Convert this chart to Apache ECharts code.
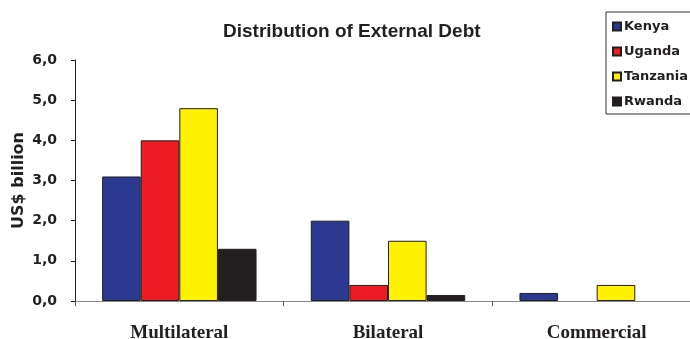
<!DOCTYPE html>
<html>
<head>
<meta charset="utf-8">
<script src="https://cdn.jsdelivr.net/npm/echarts@6/dist/echarts.min.js"></script>
<style>html,body{margin:0;padding:0;background:#fff;overflow:hidden}#c{width:710px;height:339px}</style>
</head>
<body>
<div id="c"></div>
<script>
var categories = ['Multilateral', 'Bilateral', 'Commercial'];
var kenya = [3.1, 2.0, 0.2];
var uganda = [4.0, 0.4, null];
var tanzania = [4.8, 1.5, 0.4];
var rwanda = [1.3, 0.15, null];
var yTicks = [0, 1, 2, 3, 4, 5, 6];

var names = ['Kenya', 'Uganda', 'Tanzania', 'Rwanda'];
var values = [kenya, uganda, tanzania, rwanda];
var colors = ['#2B3990', '#ED1C24', '#FFF200', '#231F20'];

var chart = echarts.init(document.getElementById('c'));
var sans = '"Liberation Sans", Arial, sans-serif';
var wide = '"DejaVu Sans", Verdana, sans-serif';
chart.setOption({
  animation: false,
  title: {
    text: 'Distribution of External Debt',
    left: 218, top: 17,
    textStyle: { fontFamily: sans, fontWeight: 'bold', fontSize: 19, color: '#231F20' }
  },
  legend: {
    orient: 'vertical',
    left: 606, top: 12,
    data: names,
    borderColor: '#333', borderWidth: 1,
    padding: [8, 40, 6, 6],
    itemGap: 12,
    itemWidth: 8, itemHeight: 8,
    icon: 'rect',
    textStyle: { fontFamily: wide, fontWeight: 'bold', fontSize: 13, color: '#231F20', padding: [0, 0, 0, -2] }
  },
  grid: { left: 75, top: 60, width: 626, height: 241, containLabel: false, outerBoundsMode: 'none' },
  xAxis: {
    type: 'category',
    data: categories,
    axisLine: { lineStyle: { color: '#888', width: 1 } },
    axisTick: { show: true, length: 5, lineStyle: { color: '#555' } },
    axisLabel: { margin: 23, fontFamily: '"Liberation Serif", "Times New Roman", serif', fontWeight: 'bold', fontSize: 19, color: '#231F20' }
  },
  yAxis: {
    type: 'value',
    min: yTicks[0], max: yTicks[yTicks.length - 1], interval: 1,
    name: 'US$ billion',
    nameLocation: 'middle', nameRotate: 90, nameGap: 48,
    nameMoveOverlap: false,
    nameTextStyle: { fontFamily: wide, fontWeight: 'bold', fontSize: 16, color: '#231F20' },
    axisLine: { show: true, lineStyle: { color: '#222', width: 1 } },
    axisTick: { show: true, length: 4, lineStyle: { color: '#222' } },
    splitLine: { show: false },
    axisLabel: {
      margin: 18, fontFamily: wide, fontWeight: 'bold', fontSize: 14, color: '#231F20',
      formatter: function (v) { return v.toFixed(1).replace('.', ','); }
    }
  },
  series: names.map(function (n, i) {
    return {
      name: n, type: 'bar', data: values[i],
      barGap: '0%', barCategoryGap: '26%',
      itemStyle: { color: colors[i], borderColor: '#231F20', borderWidth: 1 }
    };
  })
});
</script>
</body>
</html>
